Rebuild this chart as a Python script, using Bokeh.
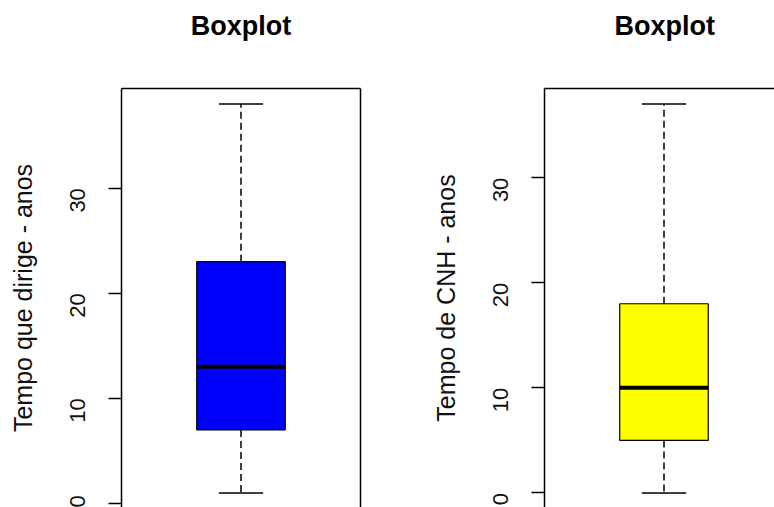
import math
from bokeh.plotting import figure
from bokeh.models import ColumnDataSource, LinearAxis, FixedTicker, Range1d, Title
from bokeh.layouts import row
from bokeh.embed import file_html
from bokeh.resources import INLINE

# ---- data ----
panel_titles = ["Boxplot", "Boxplot"]
y_labels = ["Tempo que dirige - anos", "Tempo de CNH - anos"]
box_colors = ["#0000FF", "#FFFF00"]
# lower whisker, Q1, median, Q3, upper whisker
dirige_stats = [1, 7, 13, 23, 38]
cnh_stats = [0, 5, 10, 18, 37]
y_ticks = [0, 10, 20, 30]

# ---- layout / style constants ----
FONT = "Liberation Sans"
H = 507
FRAME_TOP = 88
R_FRAME_PX = 420   # full frame height of the original device
FRAME_W = 239      # full frame width of the original device
BOX_W = 0.4
CAP_W = 0.2


def make_panel(stats, color, ylabel, title, width, border_left, border_right,
               visible_frame_w, right_line):
    lo_w, q1, med, q3, hi_w = stats
    span = hi_w - lo_w
    ymin = lo_w - 0.04 * span
    ymax = hi_w + 0.04 * span
    frame_h = H - FRAME_TOP
    ystart = ymax - (ymax - ymin) * frame_h / R_FRAME_PX
    xstart, xend_full = 0.46, 1.54
    xend = xstart + (xend_full - xstart) * visible_frame_w / FRAME_W

    p = figure(width=width, height=H,
               x_range=Range1d(xstart, xend), y_range=Range1d(ystart, ymax),
               output_backend="svg", toolbar_location=None,
               x_axis_location=None, y_axis_location=None,
               min_border_left=border_left, min_border_right=border_right,
               min_border_top=FRAME_TOP, min_border_bottom=0)
    p.outline_line_color = None
    p.grid.visible = False
    p.background_fill_color = "white"
    p.border_fill_color = "white"
    p.title = None

    # left axis
    ax = LinearAxis(ticker=FixedTicker(ticks=y_ticks), axis_label=ylabel)
    ax.major_tick_out = 13
    ax.major_tick_in = 0
    ax.minor_tick_out = 0
    ax.minor_tick_in = 0
    ax.axis_line_width = 1.5
    ax.major_tick_line_width = 1.5
    ax.axis_line_color = "black"
    ax.major_tick_line_color = "black"
    ax.major_label_orientation = math.pi / 2
    ax.major_label_text_font = FONT
    ax.major_label_text_font_size = "22px"
    ax.major_label_text_color = "#111111"
    ax.major_label_standoff = 31
    ax.axis_label_text_font = FONT
    ax.axis_label_text_font_size = "25px"
    ax.axis_label_text_font_style = "normal"
    ax.axis_label_text_color = "#111111"
    ax.axis_label_standoff = 23
    p.add_layout(ax, "left")

    # frame lines (top, optionally right)
    def frame_axis():
        a = LinearAxis(ticker=FixedTicker(ticks=[]))
        a.major_tick_out = 0
        a.major_tick_in = 0
        a.minor_tick_out = 0
        a.minor_tick_in = 0
        a.major_label_text_font_size = "0px"
        a.major_label_standoff = 0
        a.axis_line_width = 1.5
        a.axis_line_color = "black"
        return a

    p.add_layout(frame_axis(), "above")
    if right_line:
        p.add_layout(frame_axis(), "right")

    # spacer between frame and title, then the title itself
    p.add_layout(Title(text=" ", text_font_size="1px", standoff=45), "above")
    t = Title(text=title, text_font=FONT, text_font_style="bold",
              text_font_size="27px", text_color="black", standoff=0)
    if visible_frame_w < FRAME_W:
        t.align = "left"
        t.offset = 70
    else:
        t.align = "center"
    p.add_layout(t, "above")

    src = ColumnDataSource(dict(
        x=[1], lw=[lo_w], q1=[q1], med=[med], q3=[q3], uw=[hi_w],
        bx0=[1 - BOX_W / 2], bx1=[1 + BOX_W / 2],
        cx0=[1 - CAP_W / 2], cx1=[1 + CAP_W / 2],
    ))

    # whiskers
    p.segment(x0="x", y0="q3", x1="x", y1="uw", source=src,
              line_color="black", line_width=1.5, line_dash="7 4")
    p.segment(x0="x", y0="q1", x1="x", y1="lw", source=src,
              line_color="black", line_width=1.5, line_dash="7 4")
    # box
    p.vbar(x="x", width=BOX_W, bottom="q1", top="q3", source=src,
           fill_color=color, line_color="black", line_width=1.2)
    # median
    p.segment(x0="bx0", y0="med", x1="bx1", y1="med", source=src,
              line_color="black", line_width=4)
    # caps
    p.segment(x0="cx0", y0="uw", x1="cx1", y1="uw", source=src,
              line_color="black", line_width=1.5)
    p.segment(x0="cx0", y0="lw", x1="cx1", y1="lw", source=src,
              line_color="black", line_width=1.5)
    return p


left = make_panel(dirige_stats, box_colors[0], y_labels[0], panel_titles[0],
                  width=423, border_left=121, border_right=63,
                  visible_frame_w=239, right_line=True)
right = make_panel(cnh_stats, box_colors[1], y_labels[1], panel_titles[1],
                   width=351, border_left=121, border_right=0,
                   visible_frame_w=230, right_line=False)

layout = row(left, right)
open("out.html", "w").write(file_html(layout, INLINE))
